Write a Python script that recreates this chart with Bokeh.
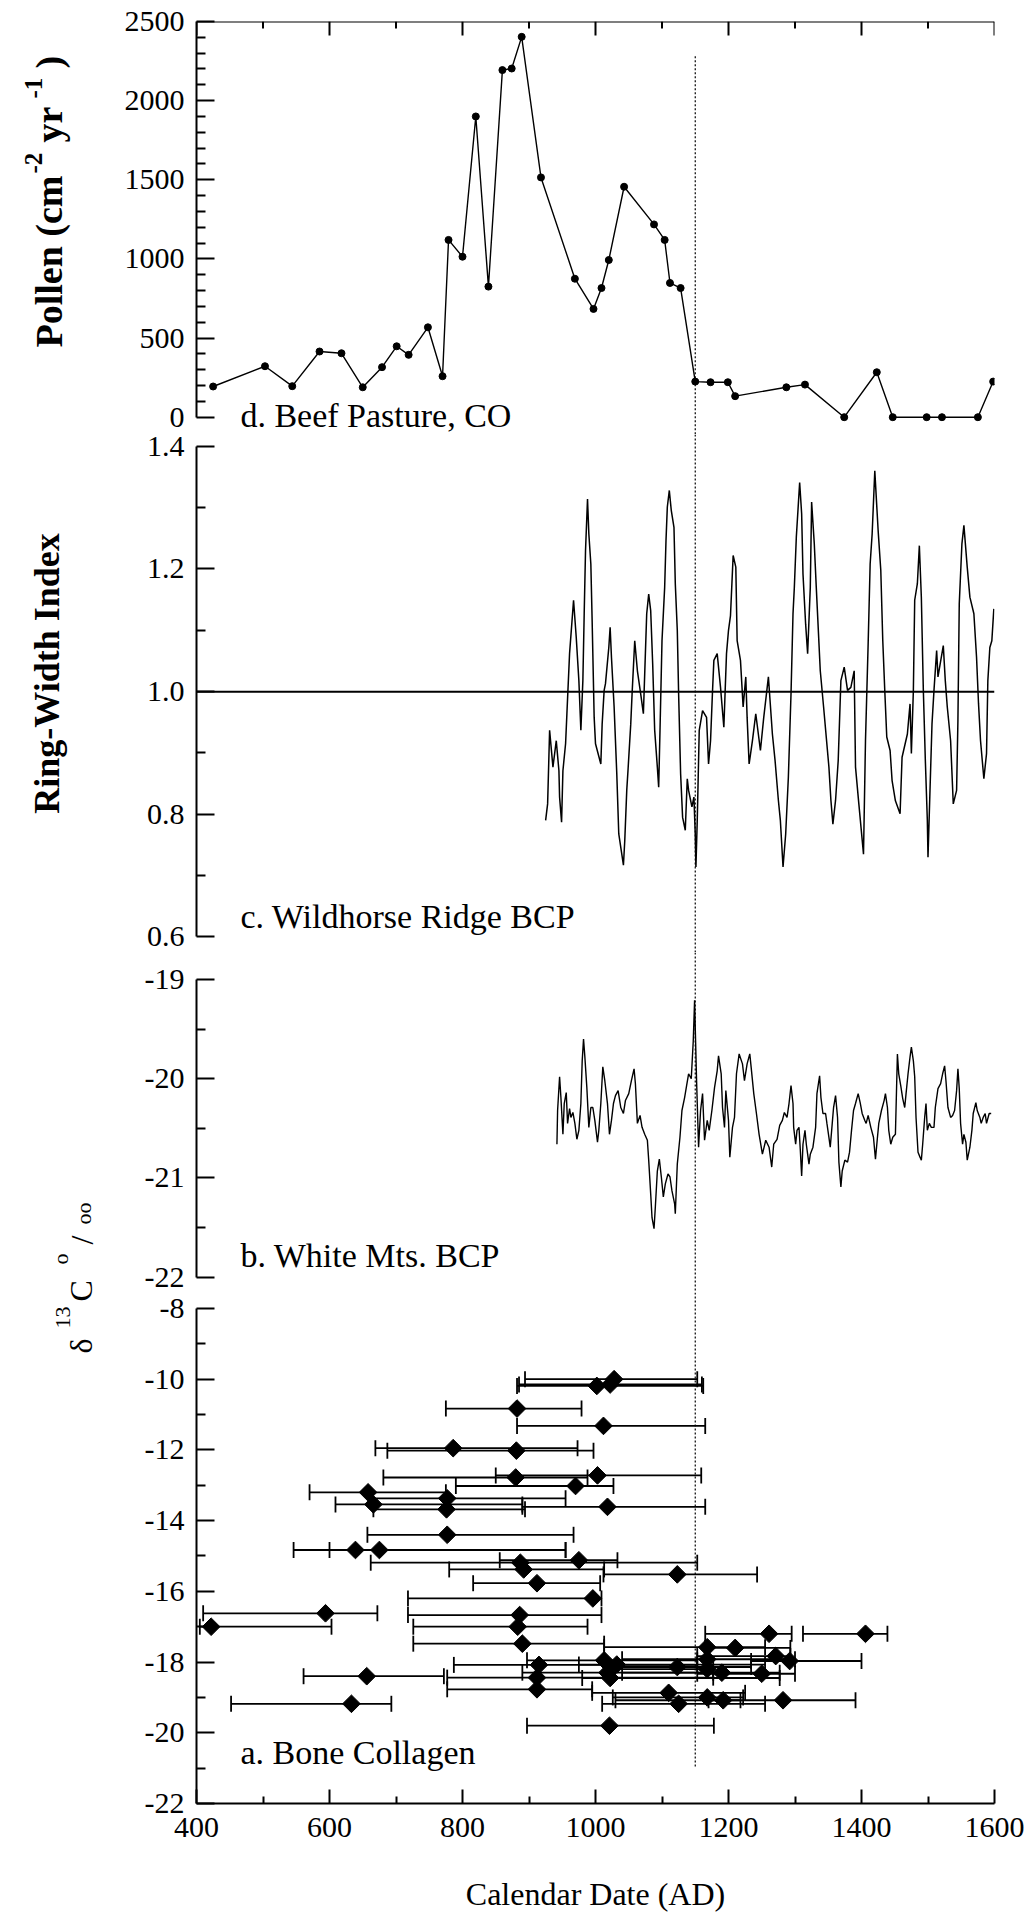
import math
from bokeh.plotting import figure
from bokeh.models import (Range1d, FixedTicker, Label, Span, Whisker, TeeHead,
                          ColumnDataSource)
from bokeh.layouts import row, column
from bokeh.embed import file_html
from bokeh.resources import INLINE

# ---------------- data ----------------
# d. Beef Pasture, CO  (pollen influx)
POLLEN_YEAR = [425, 503, 544, 585, 618, 650, 679, 701, 719, 748, 770, 779, 800, 820,
               839, 860, 874, 889, 918, 969, 997, 1009, 1020, 1043, 1088, 1104, 1112,
               1128, 1150, 1173, 1199, 1210, 1287, 1315, 1374, 1423, 1447, 1498, 1521,
               1575, 1598]
POLLEN_VALUE = [194, 322, 196, 415, 404, 189, 316, 448, 394, 568, 259, 1120, 1014, 1900,
                825, 2193, 2203, 2403, 1515, 875, 684, 816, 993, 1456, 1218, 1120, 848,
                816, 225, 221, 221, 133, 189, 206, 0, 284, 0, 0, 0, 0, 225]

# c. Wildhorse Ridge BCP (ring-width index)
RW_YEAR = [925, 928, 931, 936, 941, 945, 946, 949, 951, 955, 957, 961, 967, 971, 975, 978,
           981, 983, 985, 988, 990, 993, 995, 998, 1000, 1008, 1010, 1013, 1015, 1020, 1022,
           1024, 1028, 1032, 1035, 1042, 1044, 1047, 1049, 1053, 1055, 1059, 1063, 1068,
           1072, 1074, 1077, 1080, 1083, 1086, 1089, 1093, 1095, 1097, 1100, 1104, 1106,
           1108, 1111, 1114, 1118, 1120, 1123, 1125, 1128, 1131, 1135, 1138, 1140, 1145,
           1148, 1150, 1151, 1153, 1156, 1161, 1167, 1170, 1173, 1176, 1178, 1183, 1188,
           1193, 1195, 1197, 1200, 1203, 1207, 1211, 1213, 1218, 1222, 1226, 1228, 1231,
           1236, 1241, 1248, 1253, 1260, 1266, 1270, 1275, 1278, 1282, 1286, 1290, 1294,
           1297, 1299, 1302, 1307, 1310, 1312, 1316, 1319, 1323, 1325, 1329, 1332, 1338,
           1343, 1351, 1354, 1357, 1361, 1365, 1369, 1374, 1379, 1384, 1389, 1391, 1396,
           1403, 1406, 1410, 1413, 1416, 1420, 1425, 1429, 1432, 1435, 1438, 1443, 1446,
           1451, 1458, 1461, 1469, 1473, 1475, 1478, 1480, 1484, 1487, 1490, 1493, 1496,
           1499, 1500, 1503, 1506, 1509, 1513, 1515, 1523, 1526, 1529, 1534, 1538, 1543,
           1545, 1547, 1551, 1554, 1559, 1563, 1569, 1573, 1576, 1579, 1584, 1588, 1590,
           1593, 1596, 1599]
RW_INDEX = [0.790, 0.817, 0.937, 0.877, 0.920, 0.871, 0.828, 0.787, 0.871, 0.915, 0.964,
            1.062, 1.149, 1.089, 1.018, 0.937, 1.018, 1.127, 1.230, 1.314, 1.257, 1.208,
            1.113, 0.958, 0.915, 0.882, 0.947, 1.002, 1.013, 1.072, 1.105, 1.056, 0.975,
            0.866, 0.768, 0.717, 0.757, 0.839, 0.874, 0.947, 0.996, 1.083, 1.034, 0.996,
            0.964, 1.029, 1.127, 1.159, 1.132, 1.045, 0.937, 0.877, 0.844, 0.937, 1.083,
            1.170, 1.246, 1.301, 1.328, 1.295, 1.268, 1.176, 1.100, 0.996, 0.866, 0.795,
            0.774, 0.858, 0.839, 0.812, 0.828, 0.768, 0.714, 0.790, 0.937, 0.969, 0.958,
            0.882, 0.920, 1.002, 1.051, 1.062, 1.007, 0.942, 1.002, 1.062, 1.100, 1.124,
            1.222, 1.203, 1.083, 1.051, 0.975, 1.024, 0.958, 0.882, 0.920, 0.964, 0.904,
            0.958, 1.024, 0.931, 0.888, 0.823, 0.790, 0.714, 0.768, 0.860, 0.996, 1.127,
            1.170, 1.252, 1.341, 1.290, 1.192, 1.110, 1.062, 1.170, 1.309, 1.241, 1.170,
            1.034, 0.975, 0.877, 0.823, 0.784, 0.823, 0.888, 1.018, 1.040, 1.002, 1.007,
            1.034, 0.877, 0.817, 0.735, 0.920, 1.078, 1.208, 1.257, 1.360, 1.263, 1.198,
            1.083, 1.002, 0.926, 0.904, 0.855, 0.822, 0.801, 0.893, 0.931, 0.980, 0.899,
            1.002, 1.149, 1.176, 1.238, 1.154, 1.002, 0.888, 0.790, 0.730, 0.839, 0.947,
            1.002, 1.067, 1.024, 1.075, 1.018, 0.975, 0.920, 0.817, 0.839, 0.953, 1.143,
            1.241, 1.271, 1.203, 1.154, 1.127, 1.056, 0.980, 0.920, 0.858, 0.899, 1.018,
            1.072, 1.083, 1.135]
RW_BASELINE = 1.0

# b. White Mts. BCP (delta 13C)
WM_YEAR = [942, 943, 946, 948, 951, 953, 956, 958, 961, 963, 966, 969, 972, 975, 978, 980,
           982, 984, 987, 990, 993, 996, 999, 1003, 1005, 1008, 1011, 1014, 1018, 1021, 1024,
           1027, 1030, 1034, 1038, 1042, 1045, 1050, 1054, 1058, 1060, 1063, 1067, 1070,
           1074, 1078, 1080, 1083, 1085, 1088, 1090, 1093, 1096, 1099, 1102, 1105, 1109,
           1112, 1115, 1119, 1120, 1123, 1127, 1130, 1134, 1137, 1140, 1144, 1147, 1149,
           1152, 1155, 1158, 1161, 1164, 1168, 1171, 1175, 1179, 1183, 1185, 1189, 1191,
           1194, 1196, 1200, 1202, 1206, 1209, 1212, 1216, 1221, 1224, 1228, 1232, 1234,
           1238, 1242, 1246, 1251, 1256, 1261, 1265, 1268, 1273, 1277, 1281, 1284, 1288,
           1291, 1294, 1297, 1298, 1301, 1303, 1306, 1308, 1310, 1312, 1315, 1317, 1321,
           1323, 1327, 1331, 1333, 1337, 1339, 1342, 1346, 1348, 1351, 1353, 1356, 1358,
           1361, 1364, 1366, 1369, 1371, 1375, 1379, 1382, 1385, 1388, 1391, 1395, 1398,
           1401, 1405, 1407, 1410, 1414, 1418, 1421, 1424, 1426, 1430, 1434, 1436, 1439,
           1441, 1444, 1447, 1451, 1454, 1456, 1459, 1462, 1465, 1467, 1470, 1473, 1475,
           1478, 1480, 1482, 1485, 1488, 1490, 1492, 1495, 1497, 1499, 1502, 1505, 1509,
           1511, 1515, 1519, 1522, 1525, 1527, 1530, 1534, 1537, 1540, 1543, 1545, 1547,
           1549, 1552, 1554, 1557, 1559, 1563, 1566, 1568, 1572, 1574, 1578, 1580, 1583,
           1586, 1588, 1592, 1595]
WM_D13C = [-20.66, -20.32, -19.98, -20.19, -20.56, -20.25, -20.14, -20.45, -20.30, -20.39,
           -20.34, -20.45, -20.61, -20.52, -20.25, -19.82, -19.60, -19.78, -20.09, -20.49,
           -20.29, -20.29, -20.42, -20.64, -20.52, -20.25, -19.88, -20.02, -20.25, -20.56,
           -20.42, -20.25, -20.17, -20.12, -20.29, -20.35, -20.22, -20.15, -20.02, -19.90,
           -20.05, -20.45, -20.37, -20.49, -20.56, -20.62, -20.82, -21.16, -21.40, -21.51,
           -21.29, -20.93, -20.81, -20.99, -21.19, -21.06, -20.96, -20.99, -21.13, -21.26,
           -21.36, -20.86, -20.59, -20.32, -20.19, -20.07, -19.95, -20.00, -19.62, -19.21,
           -20.02, -20.69, -20.32, -20.15, -20.62, -20.42, -20.52, -20.32, -20.09, -19.92,
           -19.77, -19.95, -20.29, -20.49, -20.12, -20.42, -20.79, -20.49, -20.39, -19.95,
           -19.75, -19.85, -20.02, -19.85, -19.75, -19.88, -20.15, -20.35, -20.56, -20.76,
           -20.62, -20.69, -20.89, -20.66, -20.61, -20.47, -20.42, -20.34, -20.39, -20.25,
           -20.07, -20.25, -20.49, -20.66, -20.52, -20.49, -20.72, -20.98, -20.66, -20.52,
           -20.66, -20.86, -20.76, -20.69, -20.49, -20.15, -19.97, -20.19, -20.35, -20.35,
           -20.45, -20.59, -20.69, -20.45, -20.29, -20.17, -20.39, -20.84, -21.09, -20.93,
           -20.82, -20.84, -20.74, -20.52, -20.32, -20.25, -20.15, -20.24, -20.35, -20.42,
           -20.45, -20.37, -20.49, -20.59, -20.81, -20.59, -20.45, -20.32, -20.22, -20.15,
           -20.29, -20.52, -20.66, -20.59, -20.56, -19.75, -19.95, -20.07, -20.20, -20.29,
           -20.15, -19.95, -19.78, -19.68, -19.82, -19.98, -20.39, -20.74, -20.79, -20.82,
           -20.66, -20.39, -20.25, -20.52, -20.45, -20.49, -20.49, -20.29, -20.10, -20.05,
           -19.95, -19.87, -20.02, -20.29, -20.39, -20.37, -20.32, -20.12, -19.90, -20.10,
           -20.45, -20.66, -20.56, -20.64, -20.82, -20.69, -20.52, -20.35, -20.24, -20.32,
           -20.39, -20.45, -20.39, -20.35, -20.45, -20.35, -20.35]

# a. Bone Collagen (delta 13C with calibrated date ranges)
BONE_YEAR = [1002, 1022, 1028, 882, 1012, 786, 881, 880, 1003, 970, 658, 666, 777, 776,
             1018, 777, 639, 675, 887, 892, 975, 912, 1123, 996, 594, 422, 886, 883, 890,
             1261, 1406, 1168, 1210, 1168, 1271, 1292, 1123, 1190, 1250, 1168, 915, 912,
             912, 1013, 1018, 1032, 1022, 656, 633, 1110, 1125, 1168, 1192, 1282, 1021]
BONE_D13C = [-10.19, -10.15, -10.0, -10.83, -11.32, -11.95, -12.02, -12.78, -12.72, -13.02,
             -13.2, -13.54, -13.37, -13.68, -13.61, -14.4, -14.83, -14.83, -15.19, -15.38,
             -15.12, -15.77, -15.52, -16.2, -16.62, -17.0, -16.67, -17.0, -17.48, -17.2,
             -17.2, -17.58, -17.6, -17.92, -17.83, -17.97, -18.14, -18.3, -18.33, -18.2,
             -18.08, -18.44, -18.77, -17.95, -18.3, -18.07, -18.45, -18.4, -19.18, -18.87,
             -19.18, -19.0, -19.08, -19.08, -19.8]
BONE_LO = [882, 885, 894, 775, 882, 669, 687, 681, 850, 790, 570, 609, 660, 666, 890, 657,
           546, 600, 662, 780, 856, 816, 1012, 718, 410, 405, 718, 726, 726, 1165, 1312,
           1013, 1165, 1040, 1153, 1234, 1013, 1040, 1153, 1013, 787, 777, 777, 897, 890,
           975, 980, 561, 452, 995, 1010, 1026, 1030, 1170, 897]
BONE_HI = [1162, 1160, 1153, 979, 1165, 973, 997, 988, 1159, 1027, 775, 890, 955, 894,
           1165, 967, 955, 955, 1153, 1013, 1033, 1007, 1243, 1009, 672, 603, 1009, 988,
           1013, 1295, 1439, 1255, 1293, 1300, 1293, 1400, 1234, 1277, 1300, 1177, 1153,
           1177, 995, 1153, 1177, 1255, 1277, 772, 693, 1225, 1255, 1222, 1218, 1391, 1178]

# reference line (dotted) and its reach
DOTTED_YEAR = 1150
DOTTED_TOP_POLLEN = 2280
DOTTED_BOTTOM_D13C = -21.0

# axes ticks / labels
X_TICKS = [400, 600, 800, 1000, 1200, 1400, 1600]
X_TICK_LABELS = ["400", "600", "800", "1000", "1200", "1400", "1600"]
X_MINOR = [500, 700, 900, 1100, 1300, 1500]
POLLEN_TICKS = [0, 500, 1000, 1500, 2000, 2500]
POLLEN_TICK_LABELS = ["0", "500", "1000", "1500", "2000", "2500"]
POLLEN_MINOR = [100, 200, 300, 400, 600, 700, 800, 900, 1100, 1200, 1300, 1400,
                1600, 1700, 1800, 1900, 2100, 2200, 2300, 2400]
RW_TICKS = [0.6, 0.8, 1.0, 1.2, 1.4]
RW_TICK_LABELS = ["0.6", "0.8", "1.0", "1.2", "1.4"]
RW_MINOR = [0.7, 0.9, 1.1, 1.3]
WM_TICKS = [-22, -21, -20, -19]
WM_TICK_LABELS = ["-22", "-21", "-20", "-19"]
WM_MINOR = [-21.5, -20.5, -19.5]
BONE_TICKS = [-22, -20, -18, -16, -14, -12, -10, -8]
BONE_TICK_LABELS = ["-22", "-20", "-18", "-16", "-14", "-12", "-10", "-8"]
BONE_MINOR = [-21, -19, -17, -15, -13, -11, -9]

PANEL_LABELS = ["d.  Beef Pasture, CO", "c.  Wildhorse Ridge BCP",
                "b.  White Mts. BCP", "a.  Bone Collagen"]
X_TITLE = "Calendar Date (AD)"

# ---------------- layout / style ----------------
FONT = "Liberation Serif"
TICK_FS = "30px"
LEFT_W = 100
FRAME_W = 798
BORDER_L = 96
BORDER_R = 31

x_range = Range1d(400, 1600)

# y ranges chosen so that the panels sit at their vertical positions on the page
D_FRAME_H = 413
D_PX_PER_UNIT = 395.7 / 2500.0
D_RANGE = (-(D_FRAME_H + 21 - 416.7) / D_PX_PER_UNIT, 2500.0)
C_RANGE = (0.5747, 1.41924)
B_RANGE = (-22.154, -18.728)
A_RANGE = (-22.0, -7.5475)


def make_panel(yr, frame_h, top, bottom, xloc):
    p = figure(x_range=x_range, y_range=Range1d(*yr), frame_width=FRAME_W,
               frame_height=frame_h, min_border_left=BORDER_L, min_border_right=BORDER_R,
               min_border_top=top, min_border_bottom=bottom, toolbar_location=None,
               output_backend="svg", x_axis_location=xloc, y_axis_location="left")
    p.grid.visible = False
    p.outline_line_color = None
    p.background_fill_color = "white"
    p.border_fill_color = "white"
    return p


def style_axis(ax, ticks, labels, minor, bounds, tick_in=18, minor_in=9):
    ax.ticker = FixedTicker(ticks=ticks, minor_ticks=minor)
    ax.major_label_overrides = {t: l for t, l in zip(ticks, labels)}
    ax.bounds = bounds
    ax.axis_line_width = 2
    ax.axis_line_color = "black"
    ax.major_tick_in = tick_in
    ax.major_tick_out = 0
    ax.minor_tick_in = minor_in
    ax.minor_tick_out = 0
    ax.major_tick_line_width = 2
    ax.minor_tick_line_width = 2
    ax.major_tick_line_color = "black"
    ax.minor_tick_line_color = "black"
    ax.major_label_text_font = FONT
    ax.major_label_text_font_size = TICK_FS
    ax.major_label_text_font_style = "normal"
    ax.major_label_text_color = "black"
    ax.major_label_standoff = 12


def panel_label(p, text, x, y):
    # y is the top of the text box
    p.add_layout(Label(x=x, y=y, text=text, text_font=FONT, text_font_size="34px",
                       text_color="black", text_baseline="top", text_align="left"))


# --- panel d ---
pd_ = make_panel(D_RANGE, D_FRAME_H, 21, 0, None)
style_axis(pd_.yaxis[0], POLLEN_TICKS, POLLEN_TICK_LABELS, POLLEN_MINOR, (0, 2500))
# top frame edge with inward date ticks
top_val = POLLEN_TICKS[-1]
pd_.add_layout(Span(location=top_val, dimension="width", line_color="black", line_width=2))
pd_.segment(x0=X_TICKS, y0=[top_val] * len(X_TICKS), x1=X_TICKS,
            y1=[top_val - 14 / D_PX_PER_UNIT] * len(X_TICKS), line_color="black", line_width=2)
pd_.segment(x0=X_MINOR, y0=[top_val] * len(X_MINOR), x1=X_MINOR,
            y1=[top_val - 7 / D_PX_PER_UNIT] * len(X_MINOR), line_color="black", line_width=2)
pd_.segment(x0=[DOTTED_YEAR], y0=[DOTTED_TOP_POLLEN], x1=[DOTTED_YEAR], y1=[D_RANGE[0]],
            line_color="black", line_width=1.2, line_dash="2 2")
pd_.line(POLLEN_YEAR, POLLEN_VALUE, line_color="black", line_width=1.4)
pd_.scatter(POLLEN_YEAR, POLLEN_VALUE, size=7, color="black")
panel_label(pd_, PANEL_LABELS[0], 466, (416.7 - 396.2) / D_PX_PER_UNIT)

# --- panel c ---
pc = make_panel(C_RANGE, 952 - 21 - D_FRAME_H, 0, 0, None)
style_axis(pc.yaxis[0], RW_TICKS, RW_TICK_LABELS, RW_MINOR, (0.6, 1.4))
pc.add_layout(Span(location=DOTTED_YEAR, dimension="height", line_color="black",
                   line_width=1.2, line_dash="2 2"))
pc.add_layout(Span(location=RW_BASELINE, dimension="width", line_color="black",
                   line_width=2))
pc.line(RW_YEAR, RW_INDEX, line_color="black", line_width=1.5)
panel_label(pc, PANEL_LABELS[1], 466, 0.6633)

# --- panel b ---
pb = make_panel(B_RANGE, 340, 0, 0, None)
style_axis(pb.yaxis[0], WM_TICKS, WM_TICK_LABELS, WM_MINOR, (-22, -19))
pb.add_layout(Span(location=DOTTED_YEAR, dimension="height", line_color="black",
                   line_width=1.2, line_dash="2 2"))
pb.line(WM_YEAR, WM_D13C, line_color="black", line_width=1.4)
panel_label(pb, PANEL_LABELS[2], 466, -21.597)

# --- panel a ---
pa = make_panel(A_RANGE, 511, 0, 120, "below")
style_axis(pa.yaxis[0], BONE_TICKS, BONE_TICK_LABELS, BONE_MINOR, (-22, -8))
style_axis(pa.xaxis[0], X_TICKS, X_TICK_LABELS, X_MINOR, (400, 1600), 14, 7)
pa.xaxis[0].major_label_standoff = 14
pa.xaxis[0].axis_label = X_TITLE
pa.xaxis[0].axis_label_text_font = FONT
pa.xaxis[0].axis_label_text_font_size = "32px"
pa.xaxis[0].axis_label_text_font_style = "normal"
pa.xaxis[0].axis_label_text_color = "black"
pa.xaxis[0].axis_label_standoff = 36
pa.segment(x0=[DOTTED_YEAR], y0=[A_RANGE[1]], x1=[DOTTED_YEAR], y1=[DOTTED_BOTTOM_D13C],
           line_color="black", line_width=1.2, line_dash="2 2")
src = ColumnDataSource(dict(x=BONE_YEAR, y=BONE_D13C, lo=BONE_LO, hi=BONE_HI))
pa.add_layout(Whisker(source=src, base="y", lower="lo", upper="hi", dimension="width",
                      line_color="black", line_width=1.8,
                      lower_head=TeeHead(size=16, line_width=1.8, line_color="black"),
                      upper_head=TeeHead(size=16, line_width=1.8, line_color="black")))
pa.scatter("x", "y", source=src, marker="square", angle=math.pi / 4, size=12.5,
           color="black")
panel_label(pa, PANEL_LABELS[3], 466, -20.040)

# --- left strip holding the rotated y titles ---
lf = figure(x_range=Range1d(0, LEFT_W), y_range=Range1d(1923, 0), frame_width=LEFT_W,
            frame_height=1923, min_border=0, toolbar_location=None, output_backend="svg",
            x_axis_location=None, y_axis_location=None)
lf.grid.visible = False
lf.outline_line_color = None
lf.background_fill_color = "white"
lf.border_fill_color = "white"

ROT = math.pi / 2
# (text, start y, font size, baseline x, bold)
TITLE_PIECES = [
    ("Pollen (cm", 347, 38, 48, True),
    ("-2", 173, 25, 33, True),
    ("yr", 142, 38, 48, True),
    ("-1", 98, 25, 33, True),
    (")", 68, 38, 48, True),
    ("δ", 1353, 32, 80, False),
    ("13", 1328, 22, 62, False),
    ("C", 1301, 32, 80, False),
    ("o", 1264, 22, 60, False),
    ("/", 1244, 32, 81, False),
    ("oo", 1224, 22, 83, False),
]
for txt, y0, fs, bx, bold in TITLE_PIECES:
    lf.add_layout(Label(x=bx, y=y0, text=txt, angle=ROT, text_font=FONT,
                        text_font_size=f"{fs}px", text_color="black",
                        text_font_style="bold" if bold else "normal",
                        text_align="left", text_baseline="alphabetic"))
lf.add_layout(Label(x=46, y=673, text="Ring-Width Index", angle=ROT, text_font=FONT,
                    text_font_size="36px", text_font_style="bold", text_color="black",
                    text_align="center", text_baseline="alphabetic"))

layout = row(lf, column(pd_, pc, pb, pa, spacing=0), spacing=0)
open("out.html", "w").write(file_html(layout, INLINE))
